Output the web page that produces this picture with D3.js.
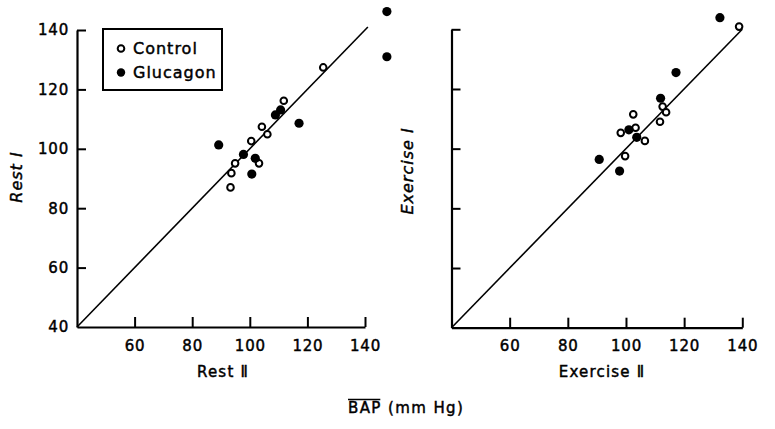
<!DOCTYPE html>
<html>
<head>
<meta charset="utf-8">
<script src="https://d3js.org/d3.v7.min.js"></script>
<style>
  body { margin: 0; background: #fff; }
  svg text { font-family: "DejaVu Sans", sans-serif; fill: #000; stroke: #000; stroke-width: 0.45px; }
</style>
</head>
<body>
<svg id="vis" width="775" height="429"></svg>
<script>
// values, [x, y] in mmHg
var restControl = [[125.5, 127.4], [111.8, 116.2], [104.2, 107.4], [106.1, 104.9], [100.5, 102.6],
                   [94.9, 95.1], [103.2, 95.1], [93.6, 91.8], [93.3, 87.0]];
var restGlucagon = [[110.7, 113.1], [108.9, 111.4], [117.1, 108.6], [89.2, 101.3], [97.8, 98.1],
                    [101.9, 96.8], [100.7, 91.5], [147.6, 146.2], [147.6, 131.0]];
var exerciseControl = [[138.9, 140.9], [112.6, 114.1], [113.8, 112.2], [111.7, 109.0], [102.5, 111.5],
                       [103.3, 107.0], [98.2, 105.3], [106.5, 102.6], [99.7, 97.5]];
var exerciseGlucagon = [[132.3, 143.9], [117.2, 125.5], [111.9, 116.9], [101.0, 106.3],
                        [103.7, 103.8], [90.8, 96.4], [97.8, 92.5]];
var xTicks = [60, 80, 100, 120, 140];
var yTicks = [40, 60, 80, 100, 120, 140];
var legendNames = ["Control", "Glucagon"];

var display = d3.select("#vis");

// one panel = axes + identity line + two series
function drawPanel(opts) {
    var x = d3.scaleLinear().domain([40, 140]).range(opts.xRange);
    var y = d3.scaleLinear().domain([40, 140]).range(opts.yRange);
    var g = display.append("g");

    var xAxis = d3.axisBottom(x)
        .tickValues(xTicks)
        .tickSizeInner(-10)
        .tickSizeOuter(0)
        .tickPadding(13);
    var yAxis = d3.axisLeft(y)
        .tickValues(yTicks)
        .tickSizeInner(-9)
        .tickSizeOuter(0)
        .tickPadding(8)
        .tickFormat(opts.yLabels ? d3.format("d") : "");

    var gx = g.append("g")
        .attr("transform", `translate(0, ${y(40)})`)
        .call(xAxis);
    var gy = g.append("g")
        .attr("transform", `translate(${x(40)}, 0)`)
        .call(yAxis);
    [gx, gy].forEach(function (a) {
        a.select(".domain").attr("stroke-width", 2.2);
        a.selectAll(".tick line").attr("stroke-width", 2);
        a.selectAll(".tick text")
            .style("font-size", "15px")
            .style("letter-spacing", "0.8px");
    });
    // no tick mark in the corner
    gy.selectAll(".tick").filter(function (d) { return d === 40; }).select("line").remove();

    // line of identity
    g.append("line")
        .attr("x1", x(40)).attr("y1", y(40))
        .attr("x2", x(opts.lineEnd)).attr("y2", y(opts.lineEnd))
        .attr("stroke", "#000")
        .attr("stroke-width", 1.6);

    g.selectAll("circle.control")
        .data(opts.control)
        .enter()
        .append("circle")
        .attr("class", "control")
        .attr("cx", function (d) { return x(d[0]); })
        .attr("cy", function (d) { return y(d[1]); })
        .attr("r", 3.3)
        .attr("fill", "#fff")
        .attr("stroke", "#000")
        .attr("stroke-width", 2);

    g.selectAll("circle.glucagon")
        .data(opts.glucagon)
        .enter()
        .append("circle")
        .attr("class", "glucagon")
        .attr("cx", function (d) { return x(d[0]); })
        .attr("cy", function (d) { return y(d[1]); })
        .attr("r", 4.6)
        .attr("fill", "#000");

    // x label
    g.append("text")
        .attr("x", opts.xTitleX)
        .attr("y", 377)
        .attr("text-anchor", "middle")
        .style("font-size", "15px")
        .style("letter-spacing", "1.2px")
        .text(opts.xTitle);

    // y label, italic and rotated
    g.append("text")
        .attr("transform", `translate(${opts.yTitlePos[0]}, ${opts.yTitlePos[1]}) rotate(-90)`)
        .attr("text-anchor", "middle")
        .style("font-size", "16px")
        .style("font-style", "italic")
        .style("letter-spacing", "1px")
        .text(opts.yTitle);
}

drawPanel({
    xRange: [77, 365], yRange: [327, 30], yLabels: true, lineEnd: 141,
    control: restControl, glucagon: restGlucagon,
    xTitle: "Rest \u2161", xTitleX: 223,
    yTitle: "Rest \u2160", yTitlePos: [22, 177]
});
drawPanel({
    xRange: [451.5, 742.3], yRange: [327.7, 29.3], yLabels: false, lineEnd: 140,
    control: exerciseControl, glucagon: exerciseGlucagon,
    xTitle: "Exercise \u2161", xTitleX: 602,
    yTitle: "Exercise \u2160", yTitlePos: [413, 171]
});

// legend
var legend = display.append("g");
legend.append("rect")
    .attr("x", 103).attr("y", 29)
    .attr("width", 119).attr("height", 61)
    .attr("fill", "#fff")
    .attr("stroke", "#000")
    .attr("stroke-width", 2);
legendNames.forEach(function (name, i) {
    var cy = 48.5 + i * 24;
    legend.append("circle")
        .attr("cx", 121).attr("cy", cy)
        .attr("r", i === 0 ? 3.3 : 4.2)
        .attr("fill", i === 0 ? "#fff" : "#000")
        .attr("stroke", "#000")
        .attr("stroke-width", i === 0 ? 2 : 0);
    legend.append("text")
        .attr("x", 133).attr("y", cy)
        .attr("dy", "0.35em")
        .style("font-size", "16px")
        .style("letter-spacing", "1px")
        .text(name);
});

// common unit label with bar over BAP
var bap = display.append("text")
    .attr("x", 348).attr("y", 413)
    .style("font-size", "15px")
    .style("letter-spacing", "1.4px");
bap.append("tspan").attr("class", "bap").text("BAP");
bap.append("tspan").text(" (mm Hg)");
var bapWidth = bap.select(".bap").node().getComputedTextLength();
display.append("line")
    .attr("x1", 348).attr("x2", 348 + bapWidth - 1.5)
    .attr("y1", 399.5).attr("y2", 399.5)
    .attr("stroke", "#000")
    .attr("stroke-width", 1.5);
</script>
</body>
</html>
